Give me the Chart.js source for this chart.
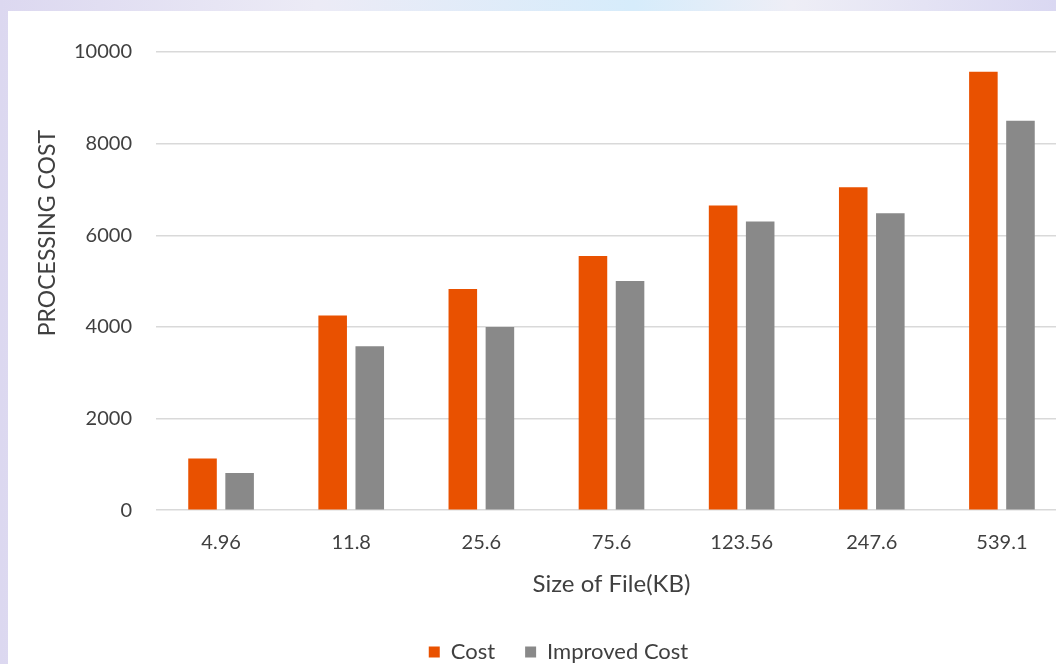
<!DOCTYPE html>
<html>
<head>
<meta charset="utf-8">
<script src="https://cdn.jsdelivr.net/npm/chart.js@4"></script>
<style>
  html, body { margin: 0; padding: 0; overflow: hidden; }
  body {
    width: 1056px; height: 664px;
    background: linear-gradient(90deg, #dcd8f0 0%, #ecebf6 30%, #d6ecfb 60%, #eeeef6 75%, #dad8f2 100%);
  }
  #box {
    position: absolute; left: 8px; top: 11px;
    width: 1090px; height: 662px; background: #fff;
  }
</style>
</head>
<body>
<div id="box"><canvas id="chart" width="1090" height="662"></canvas></div>
<script>
const sizes = ["4.96", "11.8", "25.6", "75.6", "123.56", "247.6", "539.1"];
const cost = [1130, 4250, 4830, 5550, 6650, 7050, 9570];
const improvedCost = [810, 3580, 4000, 5000, 6300, 6480, 8500];

const textColor = '#404040';
const font = "Lato, 'Open Sans', sans-serif";

// y title sits above the middle of the plot, like in the original
const yTitle = {
    id: 'yTitle',
    afterDraw(chart) {
        const ctx = chart.ctx;
        const a = chart.chartArea;
        ctx.save();
        ctx.translate(40, (a.top + a.bottom) / 2 - 48);
        ctx.rotate(-Math.PI / 2);
        ctx.fillStyle = textColor;
        ctx.font = "23px " + font;
        ctx.textAlign = 'center';
        ctx.textBaseline = 'middle';
        ctx.fillText("PROCESSING COST", 0, 0);
        ctx.restore();
    }
};

new Chart("chart", {
    type: 'bar',
    data: {
        labels: sizes,
        datasets: [{
            label: "Cost",
            backgroundColor: '#e95100',
            data: cost
        }, {
            label: "Improved Cost",
            backgroundColor: '#898989',
            data: improvedCost
        }]
    },
    plugins: [yTitle],
    options: {
        responsive: false,
        animation: false,
        categoryPercentage: 0.57,
        barPercentage: 0.77,
        layout: { padding: { left: 42, right: 31, top: 41, bottom: 0 } },
        plugins: {
            tooltip: { enabled: false },
            legend: {
                position: 'bottom',
                labels: {
                    boxWidth: 11, boxHeight: 11, padding: 30,
                    color: textColor,
                    font: { family: font, size: 22 }
                }
            }
        },
        scales: {
            x: {
                grid: { display: false },
                border: { display: false },
                ticks: { color: textColor, padding: 12, font: { family: font, size: 20 } },
                title: {
                    display: true, text: "Size of File(KB)", color: textColor,
                    padding: { top: 4, bottom: 12 },
                    font: { family: font, size: 24 }
                }
            },
            y: {
                min: 0, max: 10000,
                grid: { color: '#d9d9d9', lineWidth: 1.5, drawTicks: false },
                border: { display: false },
                ticks: {
                    stepSize: 2000, color: textColor, padding: 24,
                    font: { family: font, size: 20 },
                    callback: (v) => String(v)
                }
            }
        }
    }
});
</script>
</body>
</html>
